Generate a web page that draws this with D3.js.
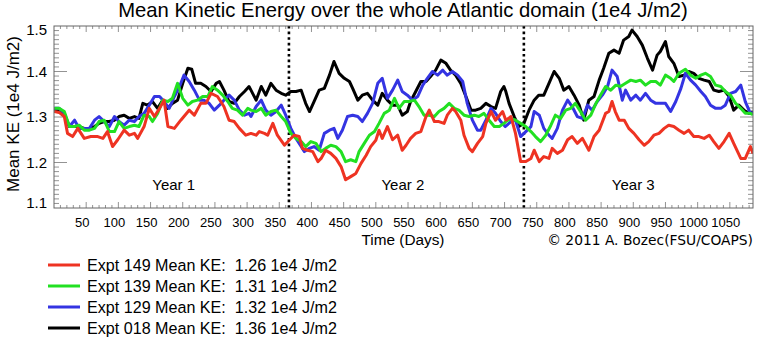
<!DOCTYPE html>
<html><head><meta charset="utf-8">
<script src="https://cdn.jsdelivr.net/npm/d3@7"></script>
<style>
body{margin:0;background:#fff}
svg{display:block}
text{font-family:"Liberation Sans",Arial,Helvetica,sans-serif;fill:#000}
</style>
</head><body>
<svg id="c" width="757" height="342"></svg>
<script>
// ---------- data ----------
const titleText = "Mean Kinetic Energy over the whole Atlantic domain (1e4 J/m2)";
const yTitle = "Mean KE (1e4 J/m2)";
const xTitle = "Time (Days)";
const credit = "\u00A9 2011 A. Bozec(FSU/COAPS)";
const xTicks = [50,100,150,200,250,300,350,400,450,500,550,600,650,700,750,800,850,900,950,1000,1050];
const yTicks = [1.1,1.2,1.3,1.4,1.5];
const yearBreaks = [365,730];
const yearLabels = ["Year 1","Year 2","Year 3"];
const yearCenters = [186,542,900];
const seriesNames = ["Expt 149","Expt 139","Expt 129","Expt 018"];
const seriesMeans = [1.26,1.31,1.32,1.36];
const seriesColors = ["#ee3322","#22e022","#3434e2","#000000"];

const days149 = [0.5,8,16,21,29,37,47,57,68,76,83,91,99,109,117,125,130,140,148,156,164,171,177,187,197,210,218,228,236,244,254,264,272,280,288,298,
306,314,319,327,332,340,347,358,366,373,381,386,394,402,410,415,422,430,438,446,453,461,469,477,485,492,500,505,510,518,526,534,541,547,554,562,570,578,583,591,598,606,611,619,624,632,637,645,650,658,666,671,679,686,697,
702,710,717,725,733,741,746,754,761,769,774,782,790,798,805,813,821,831,839,847,857,862,867,872,878,886,893,901,909,917,924,932,940,948,955,963,971,979,986,994,1002,1010,1018,1025,1033,1041,1049,1056,1067,1074,1082,1086];
const ke149 = [1.312,1.310,1.301,1.264,1.257,1.275,1.253,1.257,1.257,1.253,1.268,1.235,1.250,1.271,1.260,1.264,1.253,1.279,1.319,1.301,1.319,1.337,1.279,1.275,1.293,1.315,1.304,1.330,1.330,1.352,1.345,1.323,1.293,1.290,1.275,1.260,
1.264,1.260,1.268,1.264,1.260,1.286,1.260,1.238,1.250,1.260,1.257,1.231,1.227,1.224,1.202,1.209,1.227,1.220,1.209,1.191,1.162,1.169,1.176,1.198,1.216,1.235,1.249,1.271,1.253,1.279,1.250,1.260,1.227,1.238,1.253,1.264,1.268,1.301,1.315,1.290,1.290,1.286,1.304,1.319,1.312,1.293,1.260,1.231,1.224,1.242,1.257,1.286,1.312,1.293,1.312,
1.293,1.301,1.264,1.202,1.202,1.209,1.227,1.202,1.213,1.209,1.231,1.220,1.227,1.250,1.257,1.242,1.253,1.227,1.257,1.271,1.308,1.312,1.334,1.312,1.293,1.293,1.275,1.264,1.250,1.238,1.246,1.260,1.264,1.275,1.282,1.279,1.271,1.264,1.271,1.257,1.257,1.253,1.260,1.246,1.231,1.246,1.264,1.242,1.209,1.209,1.235,1.220];

const days139 = [0.5,8,16,24,32,39,47,55,63,70,78,86,94,101,109,117,125,132,140,148,153,161,169,177,184,192,200,208,215,223,231,239,246,254,262,270,277,285,293,301,
306,314,322,329,337,345,353,360,368,376,384,391,399,407,415,422,430,438,446,453,461,469,474,482,490,498,505,513,521,529,536,544,552,560,567,575,583,591,598,606,614,622,629,637,645,653,660,668,676,684,692,
699,702,710,717,725,733,741,748,756,764,772,779,787,795,803,810,818,826,834,842,849,857,865,873,880,888,896,904,911,919,927,935,942,950,958,963,971,981,989,997,1005,1012,1020,1028,1036,1043,1051,1059,1067,1074,1082,1086];
const ke139 = [1.319,1.319,1.312,1.279,1.279,1.282,1.271,1.271,1.275,1.290,1.293,1.268,1.268,1.290,1.275,1.279,1.282,1.279,1.304,1.301,1.290,1.308,1.337,1.334,1.341,1.374,1.341,1.326,1.334,1.337,1.345,1.345,1.367,1.359,1.348,1.334,1.319,1.315,1.304,1.319,
1.315,1.312,1.319,1.304,1.312,1.315,1.301,1.290,1.264,1.253,1.246,1.235,1.246,1.242,1.224,1.231,1.238,1.235,1.224,1.202,1.206,1.202,1.224,1.242,1.260,1.268,1.286,1.308,1.315,1.341,1.319,1.334,1.334,1.337,1.323,1.304,1.304,1.301,1.312,1.319,1.330,1.319,1.315,1.304,1.301,1.304,1.301,1.308,1.293,1.279,1.279,
1.286,1.290,1.297,1.293,1.286,1.279,1.268,1.257,1.246,1.260,1.282,1.304,1.297,1.315,1.319,1.330,1.312,1.293,1.304,1.330,1.348,1.367,1.359,1.370,1.367,1.374,1.381,1.378,1.381,1.370,1.378,1.378,1.370,1.392,1.385,1.378,1.396,1.405,1.392,1.385,1.392,1.396,1.389,1.370,1.367,1.356,1.348,1.330,1.319,1.308,1.308,1.305];

const days129 = [0.5,8,16,24,32,39,47,55,63,70,78,86,94,101,109,117,125,132,140,148,156,164,171,179,187,195,202,210,218,226,233,241,249,257,264,272,280,288,296,303,
306,314,322,329,337,345,353,360,368,376,384,389,397,404,412,420,428,435,441,448,456,464,472,479,487,495,503,510,518,526,534,541,549,557,565,573,580,588,596,604,611,619,627,635,642,650,658,663,671,679,686,694,
701,710,717,725,733,741,746,754,761,769,774,782,790,798,805,813,821,829,836,844,852,860,867,875,883,888,896,904,911,919,927,935,942,950,958,966,974,981,989,997,1005,1012,1020,1028,1036,1043,1051,1059,1067,1074,1082,1086];
const ke129 = [1.319,1.319,1.308,1.279,1.293,1.275,1.275,1.275,1.293,1.301,1.290,1.279,1.301,1.290,1.282,1.293,1.290,1.301,1.308,1.326,1.345,1.345,1.334,1.319,1.345,1.367,1.392,1.378,1.359,1.337,1.337,1.330,1.315,1.326,1.337,1.348,1.337,1.315,1.304,1.308,
1.301,1.323,1.337,1.315,1.304,1.312,1.326,1.304,1.275,1.253,1.235,1.224,1.231,1.235,1.227,1.264,1.271,1.275,1.253,1.271,1.301,1.304,1.301,1.290,1.308,1.330,1.374,1.385,1.341,1.359,1.381,1.356,1.348,1.337,1.345,1.370,1.385,1.400,1.392,1.403,1.392,1.400,1.392,1.378,1.330,1.293,1.271,1.271,1.293,1.319,1.308,1.290,
1.279,1.290,1.293,1.257,1.268,1.279,1.312,1.304,1.275,1.260,1.253,1.275,1.315,1.337,1.323,1.301,1.297,1.326,1.315,1.334,1.348,1.367,1.403,1.389,1.337,1.359,1.337,1.348,1.337,1.352,1.337,1.330,1.330,1.330,1.312,1.334,1.363,1.396,1.381,1.370,1.356,1.345,1.326,1.319,1.319,1.326,1.352,1.356,1.370,1.334,1.308,1.310];

const days018 = [0.5,8,16,24,32,39,47,55,63,70,78,86,94,101,109,117,125,132,138,145,153,161,169,176,184,192,200,208,214,220,228,236,244,252,257,264,272,280,288,296,303,
306,314,322,329,337,345,353,360,368,376,384,391,397,404,412,420,428,435,443,451,459,464,472,479,487,495,503,510,518,526,534,541,549,554,562,570,578,585,593,601,609,616,624,632,640,648,655,663,671,679,686,694,699,
702,707,715,722,730,738,746,753,761,769,777,785,792,800,808,816,823,831,839,847,854,862,870,878,885,893,898,906,914,922,930,937,942,950,955,963,971,979,986,994,1002,1010,1018,1025,1033,1041,1049,1056,1064,1072,1080,1086];
const ke018 = [1.315,1.315,1.304,1.279,1.279,1.279,1.275,1.275,1.279,1.286,1.290,1.290,1.293,1.301,1.304,1.297,1.301,1.297,1.330,1.326,1.334,1.319,1.337,1.319,1.330,1.337,1.374,1.407,1.405,1.374,1.374,1.367,1.356,1.374,1.378,1.359,1.334,1.330,1.345,1.356,1.367,
1.359,1.337,1.367,1.348,1.374,1.359,1.352,1.348,1.356,1.356,1.359,1.330,1.312,1.334,1.359,1.363,1.392,1.422,1.396,1.385,1.378,1.363,1.337,1.348,1.352,1.337,1.326,1.352,1.337,1.326,1.326,1.304,1.312,1.334,1.356,1.378,1.378,1.389,1.403,1.425,1.418,1.403,1.392,1.374,1.345,1.315,1.315,1.319,1.330,1.323,1.319,1.356,1.367,
1.356,1.330,1.301,1.279,1.286,1.315,1.337,1.348,1.348,1.374,1.400,1.385,1.359,1.367,1.348,1.326,1.293,1.337,1.345,1.381,1.407,1.440,1.447,1.440,1.469,1.477,1.491,1.477,1.458,1.429,1.403,1.436,1.444,1.466,1.433,1.418,1.389,1.392,1.400,1.396,1.385,1.381,1.378,1.359,1.356,1.359,1.345,1.315,1.326,1.315,1.308,1.312];

const seriesDays = [days149, days139, days129, days018];
const seriesKE = [ke149, ke139, ke129, ke018];

// ---------- layout ----------
const svg = d3.select("#c");
const L = 54, R = 753, T = 26, B = 208;
const x = d3.scaleLinear().domain([0,1086]).range([L,R]);
const y = d3.scaleLinear().domain([1.1,1.5]).range([B,T]);

function fit(sel, w){
  const n = sel.node(); const fs = parseFloat(sel.attr("font-size"));
  const len = n.getComputedTextLength();
  if (len>0) sel.attr("font-size", fs*w/len);
  return sel;
}

svg.append("defs").append("clipPath").attr("id","clip")
  .append("rect").attr("x",L).attr("y",T).attr("width",R-L).attr("height",B-T);

// title
fit(svg.append("text").attr("x",403).attr("y",17).attr("text-anchor","middle")
  .attr("font-size",17).text(titleText), 570);

// ticks
const tickCol = "#777";
const g = svg.append("g");
// x minor/major ticks (bottom & top)
const xMinor = d3.range(10,1086,10);
xMinor.forEach(d=>{
  const major = d%50===0;
  const len = major?6:3;
  g.append("line").attr("x1",x(d)).attr("x2",x(d)).attr("y1",B).attr("y2",B-len).attr("stroke",tickCol).attr("stroke-width",0.8);
  g.append("line").attr("x1",x(d)).attr("x2",x(d)).attr("y1",T).attr("y2",T+len).attr("stroke",tickCol).attr("stroke-width",0.8);
});
// y ticks (left & right)
const yMinor = d3.range(1.11,1.5,0.01);
yMinor.forEach(v=>{
  const major = Math.abs(Math.round(v*10)-v*10)<1e-6;
  const len = major?13:5;
  g.append("line").attr("x1",L).attr("x2",L+len).attr("y1",y(v)).attr("y2",y(v)).attr("stroke",tickCol).attr("stroke-width",0.8);
  g.append("line").attr("x1",R).attr("x2",R-len).attr("y1",y(v)).attr("y2",y(v)).attr("stroke",tickCol).attr("stroke-width",0.8);
});

// x tick labels
svg.append("g").selectAll("text").data(xTicks).join("text")
  .attr("x",d=>x(d)-4).attr("y",227).attr("text-anchor","middle")
  .attr("font-size",13).text(d=>d);
// y tick labels
svg.append("g").selectAll("text").data(yTicks).join("text")
  .attr("x",47).attr("y",d=>y(d)+5 + (d===1.5?4:0) + (d===1.1?-5:0))
  .attr("text-anchor","end").attr("font-size",15).text(d=>d.toFixed(1));

// axis titles
fit(svg.append("text").attr("transform","translate(19,114) rotate(-90)")
  .attr("text-anchor","middle").attr("font-size",15).text(yTitle), 156);
fit(svg.append("text").attr("x",403).attr("y",245).attr("text-anchor","middle")
  .attr("font-size",14).text(xTitle), 83);
fit(svg.append("text").attr("x",753).attr("y",245).attr("text-anchor","end")
  .style("font-family","'DejaVu Sans',sans-serif").attr("font-size",13).text(credit), 206);

// year labels
svg.append("g").selectAll("text").data(yearLabels).join("text")
  .attr("x",(d,i)=>x(yearCenters[i])).attr("y",190).attr("text-anchor","middle")
  .attr("font-size",15).text(d=>d);

// year break dotted lines
svg.append("g").selectAll("line").data(yearBreaks).join("line")
  .attr("x1",d=>x(d)).attr("x2",d=>x(d)).attr("y1",T).attr("y2",B)
  .attr("stroke","#000").attr("stroke-width",2.6).attr("stroke-dasharray","2.6,3");

// series
const line = d3.line().x(d=>x(d[0])).y(d=>y(d[1]));
const order = [3,2,1,0];
const lg = svg.append("g").attr("clip-path","url(#clip)");
order.forEach(i=>{
  const pts = seriesDays[i].map((d,k)=>[d, seriesKE[i][k]]);
  lg.append("path").attr("d",line(pts)).attr("fill","none")
    .attr("stroke",seriesColors[i]).attr("stroke-width",3).attr("stroke-linejoin","round");
});

// frame
svg.append("rect").attr("x",L).attr("y",T).attr("width",R-L).attr("height",B-T)
  .attr("fill","none").attr("stroke","#666").attr("stroke-width",1);

// legend
const leg = svg.append("g");
seriesNames.forEach((n,i)=>{
  const yy = 265 + i*21;
  leg.append("line").attr("x1",48).attr("x2",80).attr("y1",yy).attr("y2",yy)
    .attr("stroke",seriesColors[i]).attr("stroke-width",3);
  const t = leg.append("text").attr("x",87).attr("y",yy+6).attr("font-size",15)
    .attr("xml:space","preserve").style("white-space","pre")
    .text(n + " Mean KE:  " + seriesMeans[i].toFixed(2) + " 1e4 J/m2");
  fit(t, 250);
});
</script>
</body></html>
